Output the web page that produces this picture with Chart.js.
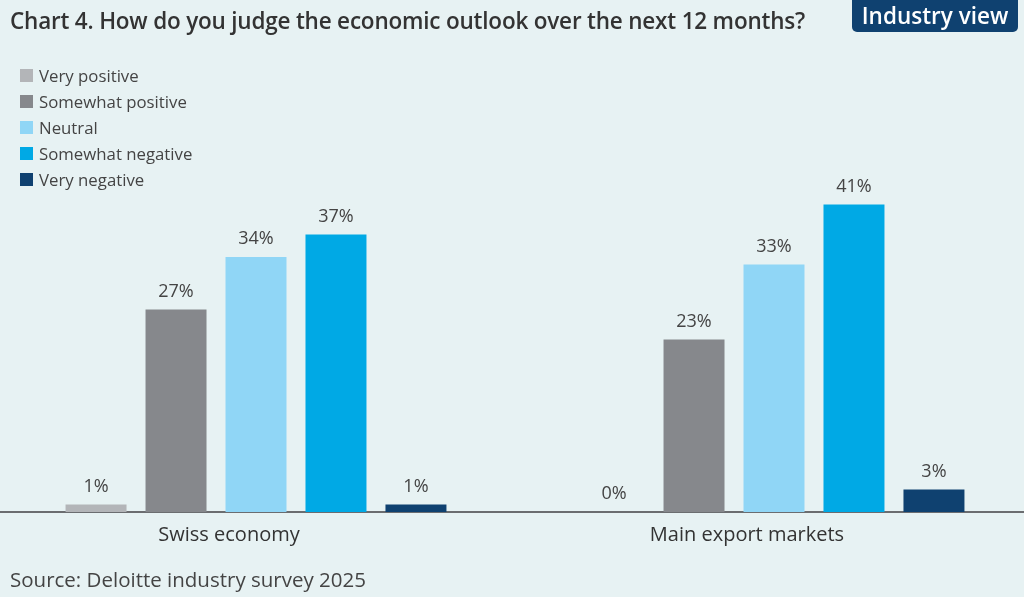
<!DOCTYPE html>
<html>
<head>
<meta charset="utf-8">
<script src="https://cdn.jsdelivr.net/npm/chart.js@4.4.1/dist/chart.umd.min.js"></script>
<style>
  body { margin: 0; background: #e7f2f3; font-family: "Open Sans", sans-serif; }
  #wrap { position: relative; width: 1024px; height: 597px; overflow: hidden; }
  #chart { position: absolute; left: -3px; top: 0; }
  .title { position: absolute; left: 10px; top: 5px; font-size: 22.5px; font-weight: 600; color: #333; letter-spacing: -0.2px; }
  .badge { position: absolute; left: 852px; top: -6px; width: 166px; height: 38px; background: #0f4170; border-radius: 5px;
           color: #fff; font-size: 22.5px; font-weight: 600; text-align: center; line-height: 44px; }
  .source { position: absolute; left: 10px; top: 565px; font-size: 20.5px; color: #444; }
  #legend { position: absolute; left: 20px; top: 63px; }
  .item { height: 25.8px; display: flex; align-items: center; font-size: 16.8px; color: #444; }
  .box { width: 13px; height: 13px; margin-right: 6px; }
</style>
</head>
<body>
<div id="wrap">
  <canvas id="chart"></canvas>
  <div class="title">Chart 4. How do you judge the economic outlook over the next 12 months?</div>
  <div class="badge">Industry view</div>
  <div id="legend"></div>
  <div class="source">Source: Deloitte industry survey 2025</div>
</div>
<script>
// ======= Data =======
const categories = ["Swiss economy", "Main export markets"];
const answers = ["Very positive", "Somewhat positive", "Neutral", "Somewhat negative", "Very negative"];
const veryPositive = [1, 0];
const somewhatPositive = [27, 23];
const neutral = [34, 33];
const somewhatNegative = [37, 41];
const veryNegative = [1, 3];
const colors = ["#b3b5b8", "#86888c", "#90d6f6", "#00a9e5", "#0f4170"];

const series = [veryPositive, somewhatPositive, neutral, somewhatNegative, veryNegative];

// labels above bars
const valueLabels = {
  id: "valueLabels",
  afterDatasetsDraw(chart) {
    const ctx = chart.ctx;
    ctx.save();
    ctx.font = "18px 'Open Sans', sans-serif";
    ctx.fillStyle = "#444";
    ctx.textAlign = "center";
    ctx.textBaseline = "bottom";
    chart.data.datasets.forEach((ds, i) => {
      chart.getDatasetMeta(i).data.forEach((bar, j) => {
        ctx.fillText(ds.data[j] + "%", bar.x, bar.y - 9);
      });
    });
    ctx.restore();
  }
};

const canvas = document.getElementById("chart");
canvas.width = 1040;
canvas.height = 597;

const chart = new Chart(canvas.getContext("2d"), {
  type: "bar",
  data: {
    labels: categories,
    datasets: series.map((values, i) => ({
      label: answers[i],
      data: values,
      backgroundColor: colors[i],
      borderWidth: 0,
      categoryPercentage: 0.772,
      barPercentage: 0.7625
    }))
  },
  options: {
    responsive: false,
    animation: false,
    layout: { padding: { top: 137, bottom: 45, left: 0, right: 4 } },
    plugins: {
      legend: { display: false },
      tooltip: { enabled: false }
    },
    scales: {
      x: {
        grid: { display: false, drawTicks: false },
        border: { color: "#6b6d70", width: 2 },
        ticks: { color: "#333", font: { family: "'Open Sans', sans-serif", size: 20 }, padding: 11, labelOffset: -27 },
        afterFit(scale) { scale.height = 40; }
      },
      y: {
        display: false,
        min: 0,
        max: 50
      }
    }
  },
  plugins: [valueLabels]
});

// HTML legend from the chart's datasets
const legend = document.getElementById("legend");
chart.data.datasets.forEach(ds => {
  const row = document.createElement("div");
  row.className = "item";
  row.innerHTML = '<span class="box" style="background:' + ds.backgroundColor + '"></span>' + ds.label;
  legend.appendChild(row);
});
</script>
</body>
</html>
